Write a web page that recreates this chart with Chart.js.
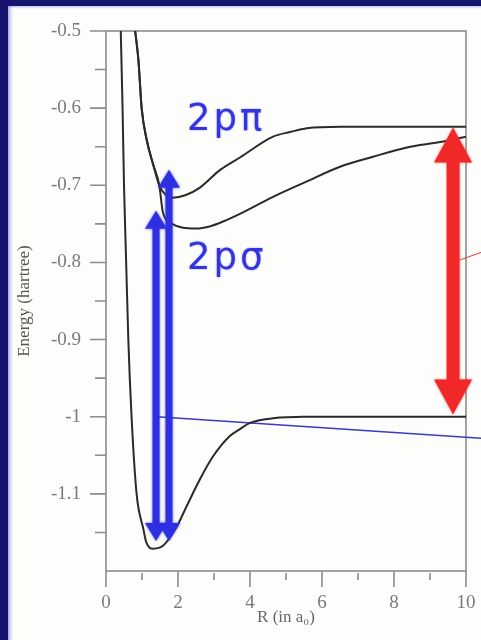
<!DOCTYPE html>
<html>
<head>
<meta charset="utf-8">
<script src="https://cdn.jsdelivr.net/npm/chart.js@4.4.1/dist/chart.umd.min.js"></script>
<style>
  html, body { margin: 0; padding: 0; background: #fff; }
  #wrap { width: 481px; height: 640px; position: relative; }
</style>
</head>
<body>
<div id="wrap"><canvas id="pes" width="481" height="640"></canvas></div>
<script>
  // H2 potential curves: R in bohr, energy in hartree
  const groundR = [0.41, 0.46, 0.50, 0.56, 0.62, 0.71, 0.85, 1.04, 1.12, 1.31, 1.59, 1.96, 2.24, 2.61, 2.98, 3.44, 3.72, 4.00, 4.64, 5.50, 7.00, 10.0];
  const groundE = [-0.5, -0.6, -0.7, -0.8, -0.9, -1.0, -1.1, -1.146, -1.163, -1.171, -1.167, -1.143, -1.116, -1.081, -1.051, -1.025, -1.016, -1.008, -1.002, -1.0, -1.0, -1.0];

  const sigmaR = [0.81, 0.90, 0.99, 1.13, 1.31, 1.48, 1.58, 1.78, 2.14, 2.50, 2.90, 3.25, 3.72, 4.64, 5.58, 6.50, 7.42, 8.36, 9.28, 10.0];
  const sigmaE = [-0.5, -0.5375, -0.6, -0.641, -0.673, -0.7, -0.735, -0.748, -0.755, -0.756, -0.753, -0.747, -0.737, -0.715, -0.695, -0.676, -0.663, -0.651, -0.644, -0.637];

  const piR = [0.81, 0.90, 0.99, 1.13, 1.31, 1.48, 1.65, 1.86, 2.20, 2.61, 3.17, 3.72, 4.64, 5.11, 5.58, 6.50, 10.0];
  const piE = [-0.5, -0.5375, -0.6, -0.641, -0.673, -0.7, -0.712, -0.716, -0.713, -0.703, -0.680, -0.664, -0.637, -0.631, -0.626, -0.624, -0.624];

  // axis ticks
  const xTicks = [0, 2, 4, 6, 8, 10];
  const xMinor = [1, 3, 5, 7, 9];
  const yTicks = [-1.1, -1, -0.9, -0.8, -0.7, -0.6, -0.5];
  const yMinor = [-1.15, -1.05, -0.95, -0.85, -0.75, -0.65, -0.55];

  // transition arrows: [R, upper tip E, lower tip E]
  const blueArrows = [[1.39, -0.733, -1.161], [1.75, -0.680, -1.161]];
  const redArrow = [9.64, -0.625, -0.997];

  // pointer lines running off the right edge
  const blueLineR = [1.42, 10.42];
  const blueLineE = [-1.0, -1.028];
  const redLineR = [9.64, 10.42];
  const redLineE = [-0.8, -0.787];

  // state labels, anchored at their left baseline
  const stateLabels = ['2pπ', '2pσ'];
  const labelR = [2.25, 2.25];
  const labelE = [-0.628, -0.808];

  const pts = (xs, ys) => xs.map((x, i) => ({ x: x, y: ys[i] }));
  const fmtTick = v => String(Number(v.toFixed(2)));

  const curve = (xs, ys) => ({
    data: pts(xs, ys),
    borderColor: '#2a2a2a',
    borderWidth: 2,
    pointRadius: 0,
    cubicInterpolationMode: 'monotone'
  });

  const AXIS = '#8c8c8c';
  const BLUE = '#2f2fe2';
  const RED = '#f02828';

  function drawArrow(ctx, x, yTop, yBot, shaft, headW, headH, color) {
    ctx.fillStyle = color;
    ctx.fillRect(x - shaft / 2, yTop + headH - 1, shaft, yBot - yTop - 2 * headH + 2);
    ctx.beginPath();
    ctx.moveTo(x, yTop);
    ctx.lineTo(x + headW / 2, yTop + headH);
    ctx.lineTo(x - headW / 2, yTop + headH);
    ctx.closePath();
    ctx.fill();
    ctx.beginPath();
    ctx.moveTo(x, yBot);
    ctx.lineTo(x + headW / 2, yBot - headH);
    ctx.lineTo(x - headW / 2, yBot - headH);
    ctx.closePath();
    ctx.fill();
  }

  const decor = {
    id: 'decor',
    beforeDraw(chart) {
      const ctx = chart.ctx, W = chart.width, H = chart.height;
      ctx.save();
      ctx.fillStyle = '#fdfefb';
      ctx.fillRect(0, 0, W, H);
      // slide frame on the left and top
      let g = ctx.createLinearGradient(7, 0, 15, 0);
      g.addColorStop(0, 'rgba(60,60,190,0.6)');
      g.addColorStop(1, 'rgba(255,255,255,0)');
      ctx.fillStyle = g;
      ctx.fillRect(7, 0, 8, H);
      g = ctx.createLinearGradient(0, 5, 0, 10);
      g.addColorStop(0, 'rgba(60,60,190,0.5)');
      g.addColorStop(1, 'rgba(255,255,255,0)');
      ctx.fillStyle = g;
      ctx.fillRect(0, 5, W, 5);
      ctx.fillStyle = '#16146e';
      ctx.fillRect(0, 0, 8, H);
      ctx.fillRect(0, 0, W, 6);
      ctx.restore();
    },
    beforeDatasetsDraw(chart) {
      const ctx = chart.ctx, a = chart.chartArea;
      const xs = chart.scales.x, ys = chart.scales.y;
      ctx.save();
      ctx.strokeStyle = AXIS;
      ctx.lineWidth = 1.6;
      ctx.strokeRect(a.left, a.top, a.right - a.left, a.bottom - a.top);
      ctx.beginPath();
      yTicks.forEach(v => {
        const y = ys.getPixelForValue(v);
        ctx.moveTo(a.left - 16, y); ctx.lineTo(a.left, y);
      });
      yMinor.forEach(v => {
        const y = ys.getPixelForValue(v);
        ctx.moveTo(a.left - 11, y); ctx.lineTo(a.left, y);
      });
      xTicks.forEach(v => {
        const x = xs.getPixelForValue(v);
        ctx.moveTo(x, a.bottom); ctx.lineTo(x, a.bottom + 16);
      });
      xMinor.forEach(v => {
        const x = xs.getPixelForValue(v);
        ctx.moveTo(x, a.bottom + 2); ctx.lineTo(x, a.bottom + 9);
      });
      ctx.stroke();
      ctx.restore();
    },
    afterDatasetsDraw(chart) {
      const ctx = chart.ctx;
      const xs = chart.scales.x, ys = chart.scales.y;
      ctx.save();
      ctx.shadowColor = 'rgba(40,40,230,0.7)';
      ctx.shadowBlur = 3;
      blueArrows.forEach(([r, top, bot]) => {
        drawArrow(ctx, xs.getPixelForValue(r), ys.getPixelForValue(top), ys.getPixelForValue(bot), 7, 22, 18, BLUE);
      });
      ctx.shadowColor = 'rgba(240,40,40,0.6)';
      drawArrow(ctx, xs.getPixelForValue(redArrow[0]), ys.getPixelForValue(redArrow[1]), ys.getPixelForValue(redArrow[2]), 13, 38, 35, RED);
      ctx.shadowColor = 'rgba(40,40,230,0.5)';
      ctx.shadowBlur = 2;
      ctx.fillStyle = '#3434de';
      ctx.font = '37px "DejaVu Sans"';
      ctx.textBaseline = 'alphabetic';
      ctx.letterSpacing = '3px';
      stateLabels.forEach((t, i) => {
        ctx.fillText(t, xs.getPixelForValue(labelR[i]), ys.getPixelForValue(labelE[i]));
      });
      ctx.restore();
    }
  };

  new Chart(document.getElementById('pes'), {
    type: 'scatter',
    data: {
      datasets: [
        curve(groundR, groundE),
        curve(sigmaR, sigmaE),
        curve(piR, piE),
        { data: pts(blueLineR, blueLineE), showLine: true, borderColor: '#3a3ac4', borderWidth: 1.5, pointRadius: 0, clip: false },
        { data: pts(redLineR, redLineE), showLine: true, borderColor: '#e23a3a', borderWidth: 1, pointRadius: 0, clip: false }
      ]
    },
    options: {
      responsive: false,
      animation: false,
      showLine: true,
      layout: { padding: { left: 14, right: 15, top: 31, bottom: 10 } },
      plugins: { legend: { display: false }, tooltip: { enabled: false } },
      scales: {
        x: {
          type: 'linear', min: 0, max: 10,
          afterFit: s => { s.height = 59; s.paddingLeft = 0; s.paddingRight = 0; },
          afterBuildTicks: s => { s.ticks = xTicks.map(v => ({ value: v })); },
          grid: { display: false },
          border: { display: false },
          ticks: { padding: 13, color: '#7a7a7a', font: { family: 'Liberation Serif', size: 19 }, callback: v => fmtTick(v) },
          title: { display: true, text: 'R (in a₀)', color: '#666', padding: { top: 0, bottom: 2 }, font: { family: 'Liberation Serif', size: 17 } }
        },
        y: {
          type: 'linear', min: -1.2, max: -0.5,
          afterFit: s => { s.width = 92; s.paddingTop = 0; s.paddingBottom = 0; },
          afterBuildTicks: s => { s.ticks = yTicks.map(v => ({ value: v })); },
          grid: { display: false },
          border: { display: false },
          ticks: { padding: 17, color: '#7a7a7a', font: { family: 'Liberation Serif', size: 19 }, callback: v => fmtTick(v) },
          title: { display: true, text: 'Energy (hartree)', color: '#555', padding: 0, font: { family: 'Liberation Serif', size: 17 } }
        }
      }
    },
    plugins: [decor]
  });
</script>
</body>
</html>
